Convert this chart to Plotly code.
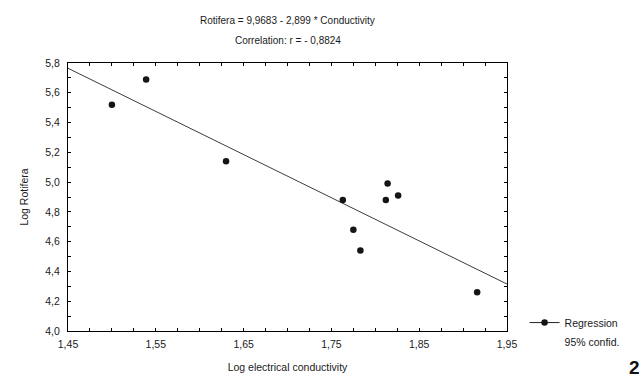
import plotly.graph_objects as go

# Data
conductivity = [1.500, 1.539, 1.630, 1.763, 1.775, 1.783, 1.812, 1.814, 1.826, 1.916]
rotifera = [5.52, 5.69, 5.14, 4.88, 4.68, 4.54, 4.88, 4.99, 4.91, 4.26]
intercept = 9.9683
slope = -2.899
x_range = [1.45, 1.95]
y_range = [4.0, 5.8]

line_x = x_range
line_y = [intercept + slope * v for v in line_x]

FONT = "Liberation Sans, Arial, sans-serif"
TXT = "#1a1a1a"

fig = go.Figure()
fig.add_trace(go.Scatter(x=line_x, y=line_y, mode="lines",
                         line=dict(color="#3c3c3c", width=1), showlegend=False,
                         hoverinfo="skip"))
fig.add_trace(go.Scatter(x=conductivity, y=rotifera, mode="markers",
                         marker=dict(color="#151515", size=6.5), showlegend=False))
# legend entries
fig.add_trace(go.Scatter(x=[None], y=[None], mode="lines+markers", name="Regression",
                         line=dict(color="#222222", width=1), marker=dict(color="#151515", size=6.5)))
fig.add_trace(go.Scatter(x=[None], y=[None], mode="lines", name="95% confid.",
                         line=dict(color="rgba(0,0,0,0)", width=1)))

axis_common = dict(showline=True, linecolor="black", linewidth=1, mirror="ticks",
                   ticks="inside", ticklen=3, tickcolor="black", showgrid=False,
                   zeroline=False, automargin=False,
                   tickfont=dict(family=FONT, size=10.5, color=TXT))

fig.update_xaxes(range=x_range, tick0=1.45, dtick=0.1, tickformat=".2f",
                 minor=dict(dtick=0.025, ticks="inside", ticklen=3, tickcolor="black"),
                 ticklabelstandoff=3,
                 title=dict(text="Log electrical conductivity", font=dict(family=FONT, size=10.5, color=TXT), standoff=15),
                 **axis_common)
fig.update_yaxes(range=y_range, tick0=4.0, dtick=0.2, tickformat=".1f",
                 minor=dict(dtick=0.1, ticks="inside", ticklen=3, tickcolor="black"),
                 ticklabelstandoff=5,
                 title=dict(text="Log Rotifera", font=dict(family=FONT, size=10.5, color=TXT), standoff=14),
                 **axis_common)

fig.update_layout(
    width=644, height=377,
    margin=dict(l=68, r=137, t=63, b=46),
    paper_bgcolor="white", plot_bgcolor="white",
    separators=", ",
    font=dict(family=FONT, size=10.5, color=TXT),
    legend=dict(x=1.04, y=-0.004, xanchor="left", yanchor="middle",
                font=dict(family=FONT, size=10.5, color=TXT), tracegroupgap=0,
                itemwidth=30, bgcolor="rgba(0,0,0,0)"),
    annotations=[
        dict(text="Rotifera = 9,9683 - 2,899 * Conductivity", x=0.5, y=1, xref="paper", yref="paper",
             xanchor="center", yanchor="middle", yshift=43, showarrow=False,
             font=dict(family=FONT, size=10, color=TXT)),
        dict(text="Correlation: r = - 0,8824", x=0.5, y=1, xref="paper", yref="paper",
             xanchor="center", yanchor="middle", yshift=23, showarrow=False,
             font=dict(family=FONT, size=10, color=TXT)),
        dict(text="<b>2</b>", x=1.3075, y=-0.138, xref="paper", yref="paper", xanchor="right", yanchor="middle",
             showarrow=False,
             font=dict(family="Liberation Sans, Arial, sans-serif", size=19, color="#111")),
    ],
)

fig.write_html("out.html", config={"displayModeBar": False},
               post_script="document.body.style.margin='0';document.body.style.overflow='hidden';")
